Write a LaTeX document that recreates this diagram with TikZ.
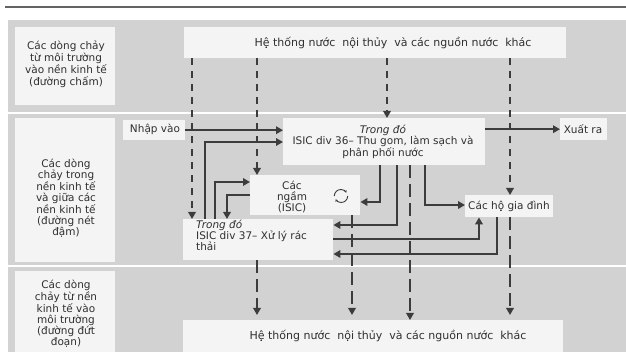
\documentclass[tikz,border=0pt]{standalone}
\usepackage{fontspec}
\setmainfont{DejaVu Sans}
\usetikzlibrary{arrows.meta,calc}
\definecolor{panel}{HTML}{D2D2D2}
\definecolor{boxfill}{HTML}{F4F4F4}
\definecolor{linecol}{HTML}{3C3C3C}
\definecolor{txtcol}{HTML}{303030}
\begin{document}
\begin{tikzpicture}[x=1pt,y=-1pt,
  font=\fontsize{10.5}{11}\selectfont,
  box/.style={fill=boxfill, inner sep=0pt, anchor=north west},
  txt/.style={text=txtcol, align=center, inner sep=0pt},
  flow/.style={draw=linecol, line width=2.3pt, -{Triangle[length=7pt,width=7.5pt]}},
  inflow/.style={flow, dash pattern=on 7pt off 6pt},
  outflow/.style={flow, dash pattern=on 13pt off 6pt},
  icon/.style={draw=linecol, line width=0.9pt, -{Stealth[length=2.5pt,width=3pt]}}]
\useasboundingbox (0,0) rectangle (626,352);
\fill[white] (0,0) rectangle (626,352);
\draw[linecol!80, line width=1.5pt] (5,7) -- (626,7);
\fill[panel] (8,20) rectangle (626,352);
\draw[white, line width=2pt] (8,113) -- (626,113);
\draw[white, line width=2pt] (8,266) -- (626,266);
% left label boxes
\node[box, minimum width=100pt, minimum height=78pt] (lab1) at (15,27) {};
\node[box, minimum width=100pt, minimum height=144pt] (lab2) at (15,118) {};
\node[box, minimum width=100pt, minimum height=90pt] (lab3) at (15,271) {};
\node[txt, font=\fontsize{10.5}{12}\selectfont] (lab1t) at (66,64) {Các dòng chảy\\từ môi trường\\vào nền kinh tế\\(đường chấm)};
\node[txt] (lab2t) at (66,198) {Các dòng\\chảy trong\\nền kinh tế\\và giữa các\\nền kinh tế\\(đường nét\\đậm)};
\node[txt, anchor=north] (lab3t) at (66,280) {Các dòng\\chảy từ nền\\kinh tế vào\\môi trường\\(đường đứt\\đoạn)};
% main boxes
\node[box, minimum width=382pt, minimum height=31pt] (top) at (184,27) {};
\node[txt, font=\fontsize{11}{12}\selectfont] (topt) at (393,43) {Hệ thống nước\ \ nội thủy\ \ và các nguồn nước\ \ khác};
\node[box, minimum width=380pt, minimum height=40pt] (bottom) at (183,320) {};
\node[txt, font=\fontsize{11}{12}\selectfont] (bottomt) at (388,336) {Hệ thống nước\ \ nội thủy\ \ và các nguồn nước\ \ khác};
\node[box, minimum width=62pt, minimum height=20pt] (nhap) at (123,120) {};
\node[txt] (nhapt) at (155,129) {Nhập vào};
\node[box, minimum width=47pt, minimum height=22pt] (xuat) at (560,118) {};
\node[txt] (xuatt) at (583,129) {Xuất ra};
\node[box, minimum width=202pt, minimum height=47pt] (isic36) at (283,118) {};
\node[txt] (isic36t) at (383,142) {\textit{Trong đó}\\ISIC div 36– Thu gom, làm sạch và\\phân phối nước};
\node[box, minimum width=110pt, minimum height=40pt] (ngam) at (250,175) {};
\node[txt] (ngamt) at (292,197) {Các\\ngầm\\(ISIC)};
\node[circle, minimum size=13pt, inner sep=0pt] (cyc) at (341,196) {};
\draw[icon] (cyc.east) arc[start angle=0, end angle=150, radius=6.5];
\draw[icon] (cyc.west) arc[start angle=180, end angle=330, radius=6.5];
\node[box, minimum width=150pt, minimum height=41pt] (isic37) at (183,219) {};
\node[txt, align=left, anchor=north west] (isic37t) at (196,220) {\textit{Trong đó}\\ISIC div 37– Xử lý rác\\thải};
\node[box, minimum width=88pt, minimum height=22pt] (ho) at (465,195) {};
\node[txt] (hot) at (509,206) {Các hộ gia đình};
% inflows from environment
\draw[inflow] (top.south -| 192,0) -- (isic37.north -| 192,0);
\draw[inflow] (top.south -| 257,0) -- (ngam.north -| 257,0);
\draw[inflow] (top.south -| 387,0) -- (isic36.north -| 387,0);
\draw[inflow] (top.south -| 510,0) -- (ho.north -| 510,0);
% flows within the economy
\draw[flow] (nhap.east) -- (isic36.west |- nhap.east);
\draw[flow] (isic36.east |- xuat.west) -- (xuat.west);
\draw[flow] (isic37.north -| 205,0) |- (isic36.west |- 0,142);
\draw[flow] (isic37.north -| 215,0) |- (ngam.west |- 0,182);
\draw[flow] (ngam.west |- 0,195) -| (isic37.north -| 227,0);
\draw[flow] (isic36.south -| 380,0) |- (ngam.east |- 0,202);
\draw[flow] (isic36.south -| 397,0) |- (isic37.east |- 0,225);
\draw[flow] (isic36.south -| 425,0) |- (ho.west |- 0,205);
\draw[flow] (isic37.east |- 0,239) -| (ho.south -| 479,0);
\draw[flow] (ho.south -| 497,0) |- (isic37.east |- 0,254);
% outflows to environment
\draw[outflow, shorten >=5pt] (isic37.south -| 257,0) -- (bottom.north -| 257,0);
\draw[outflow, shorten >=5pt] (ngam.south -| 352,0) -- (bottom.north -| 352,0);
\draw[outflow] (isic36.south -| 410,0) -- (bottom.north -| 410,0);
\draw[outflow, shorten >=5pt] (ho.south -| 510,0) -- (bottom.north -| 510,0);
\end{tikzpicture}
\end{document}
